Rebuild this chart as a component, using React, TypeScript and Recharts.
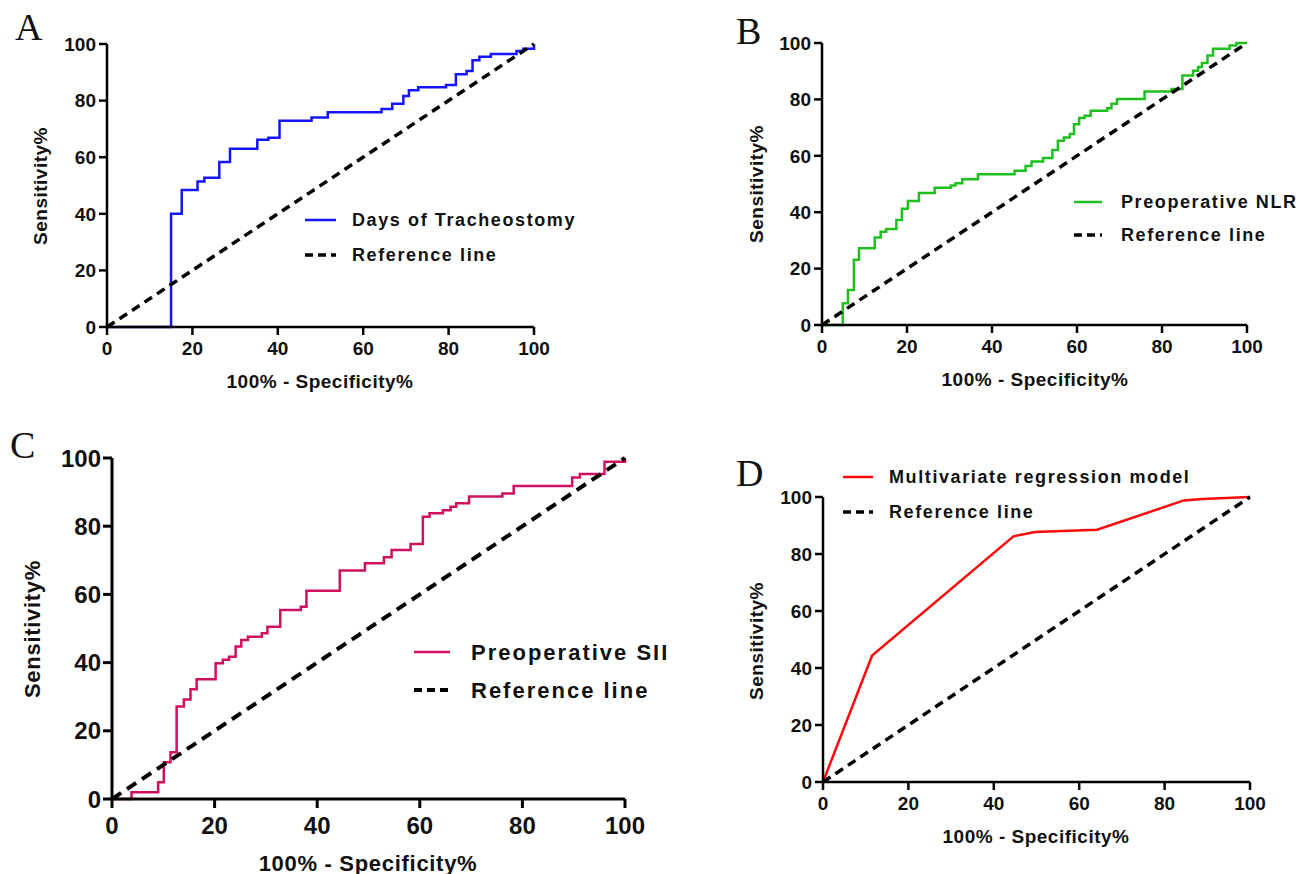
import React from 'react';
import { LineChart, Line, XAxis, YAxis } from 'recharts';

// shared axis ticks and the chance diagonal
const axisTicks = [0, 20, 40, 60, 80, 100];
const diagonalX = [0, 100];
const diagonalY = [0, 100];

// A - days of tracheostomy (100% - specificity, sensitivity)
const tracheoFpr = [0, 15, 17.5, 21.2, 22.8, 26.3, 28.8, 35.2, 37.8, 40.4, 47.9, 51.7, 64.3, 66.8, 69.4, 70.7, 72.9, 79.4, 81.7, 84.2, 85.6, 87.2, 89.9, 95.9, 97.5, 100];
const tracheoSens = [0, 40, 48.4, 51.4, 52.7, 58.3, 63, 66.2, 66.9, 72.9, 74, 75.9, 77, 78.9, 81.6, 83.7, 84.7, 85.5, 89.3, 90.5, 94.3, 95.5, 96.5, 97.5, 98.3, 100];

// B - preoperative NLR
const nlrFpr = [0, 4.9, 6.1, 7.5, 8.7, 12.4, 13.8, 15.1, 17.5, 18.8, 20.2, 22.8, 26.5, 30.3, 31.4, 33, 36.7, 45.3, 47.9, 49.3, 52, 54.2, 55.5, 56.9, 58.3, 59.3, 60.5, 61.8, 63.2, 67.1, 68.1, 69.4, 75.9, 82.2, 84.8, 87.3, 88.5, 89.4, 90.7, 92, 95.9, 97.5, 100];
const nlrSens = [0, 7.7, 12.4, 23.1, 27.2, 31, 33.1, 34, 37.2, 41.2, 44, 46.8, 48.7, 49.5, 50.3, 51.7, 53.5, 54.7, 56.4, 58, 59.2, 62.1, 65.3, 66.5, 67.7, 71.2, 73.4, 74.2, 76, 76.9, 78.5, 80.1, 82.8, 83.7, 88.5, 90.2, 91.5, 92.9, 95.6, 98, 99.1, 100, 100];

// C - preoperative SII
const siiFpr = [0, 3.8, 9, 10.1, 11.4, 12.6, 14, 15.3, 16.5, 20.2, 21.6, 22.8, 24.1, 25.2, 26.5, 29.2, 30.3, 32.8, 36.8, 37.9, 44.4, 49.3, 53, 54.5, 58.2, 60.6, 61.9, 64.5, 66, 67.1, 69.6, 76.1, 78.3, 89.7, 91.2, 96, 100];
const siiSens = [0, 2, 4.9, 10.8, 13.7, 27.1, 29.2, 32.2, 35.1, 39.8, 40.8, 41.7, 44.7, 46.6, 47.6, 48.6, 50.5, 55.4, 56.4, 61.1, 67, 69.1, 70.9, 73, 74.8, 82.8, 83.8, 84.7, 85.7, 86.7, 88.7, 89.6, 91.8, 94.3, 95.3, 98.9, 100];

// D - multivariate regression model
const modelFpr = [0, 11.5, 44.6, 49.7, 64.2, 84.5, 88.8, 100];
const modelSens = [0, 44.4, 86.2, 87.7, 88.5, 98.8, 99.3, 100];

const seriesNames = ['Days of Tracheostomy', 'Preoperative NLR', 'Preoperative SII', 'Multivariate regression model'];
const referenceName = 'Reference line';
const xTitle = '100% - Specificity%';
const yTitle = 'Sensitivity%';
const panelLetters = ['A', 'B', 'C', 'D'];

const SANS = '"Liberation Sans", Arial, Helvetica, sans-serif';
const SERIF = '"Liberation Serif", "Times New Roman", serif';

const pairs = (xs: number[], ys: number[]) => xs.map((x, i) => ({ x, y: ys[i] }));

type Look = {
  tick: number; tickWeight: number; axisW: number; tickLen: number; xGap: number; yGap: number;
  title: number; titleLs: number; legend: number; legendLs: number; legendWeight: number;
  lineW: number; refW: number; dash: string;
};

const small: Look = {
  tick: 19, tickWeight: 700, axisW: 2.5, tickLen: 8, xGap: 7, yGap: 3,
  title: 19, titleLs: 0.5, legend: 18, legendLs: 1.6, legendWeight: 700,
  lineW: 2.5, refW: 3.5, dash: '9 6',
};
const big: Look = {
  tick: 24, tickWeight: 700, axisW: 3, tickLen: 9, xGap: 9, yGap: 2,
  title: 22, titleLs: 0.7, legend: 22, legendLs: 2, legendWeight: 700,
  lineW: 2.5, refW: 4, dash: '11 7',
};

type PanelProps = {
  idx: number;
  fpr: number[];
  sens: number[];
  color: string;
  curve: 'stepAfter' | 'linear';
  plot: { x: number; y: number; w: number; h: number };
  look: Look;
};

function RocChart({ fpr, sens, color, curve, plot, look }: PanelProps) {
  const yw = 90, top = 16, right = 36, xh = 56;
  const axisLine = { stroke: '#000', strokeWidth: look.axisW };
  const tick = { fill: '#111', fontSize: look.tick, fontWeight: look.tickWeight, fontFamily: SANS };
  return (
    <div style={{ position: 'absolute', left: plot.x - yw, top: plot.y - top }}>
      <LineChart width={yw + plot.w + right} height={top + plot.h + xh} margin={{ top, right, bottom: 0, left: 0 }}>
        <XAxis type="number" dataKey="x" domain={[0, 100]} ticks={axisTicks} interval={0} height={xh}
          tickSize={look.tickLen} tickMargin={look.xGap} axisLine={axisLine} tickLine={axisLine} tick={tick} />
        <YAxis type="number" dataKey="y" domain={[0, 100]} ticks={axisTicks} interval={0} width={yw}
          tickSize={look.tickLen} tickMargin={look.yGap} axisLine={axisLine} tickLine={axisLine} tick={tick} />
        <Line data={pairs(fpr, sens)} dataKey="y" type={curve} stroke={color} strokeWidth={look.lineW}
          dot={false} activeDot={false} isAnimationActive={false} />
        <Line data={pairs(diagonalX, diagonalY)} dataKey="y" type="linear" stroke="#000" strokeWidth={look.refW}
          strokeDasharray={look.dash} dot={false} activeDot={false} isAnimationActive={false} />
      </LineChart>
    </div>
  );
}

// text and legend layout for each panel
const layout = [
  { letter: { x: 15, y: 40 }, yT: { x: 40, y: 186 }, xT: { x: 320, y: 381 }, sw: { x: 305, w: 31 }, textX: 352, rows: [220, 255] },
  { letter: { x: 736, y: 44 }, yT: { x: 756, y: 184 }, xT: { x: 1035, y: 379 }, sw: { x: 1074, w: 28 }, textX: 1121, rows: [202, 235] },
  { letter: { x: 10, y: 458 }, yT: { x: 32, y: 629 }, xT: { x: 368, y: 863 }, sw: { x: 414, w: 36 }, textX: 471, rows: [652, 690] },
  { letter: { x: 736, y: 486 }, yT: { x: 756, y: 641 }, xT: { x: 1036, y: 836 }, sw: { x: 843, w: 30 }, textX: 889, rows: [477, 512] },
];

export default function App() {
  const panels: PanelProps[] = [
    { idx: 0, fpr: tracheoFpr, sens: tracheoSens, color: '#1414ff', curve: 'stepAfter', plot: { x: 107, y: 44, w: 427, h: 283 }, look: small },
    { idx: 1, fpr: nlrFpr, sens: nlrSens, color: '#1ec01e', curve: 'stepAfter', plot: { x: 822, y: 43, w: 425, h: 282 }, look: small },
    { idx: 2, fpr: siiFpr, sens: siiSens, color: '#d0105e', curve: 'stepAfter', plot: { x: 112, y: 458, w: 513, h: 341 }, look: big },
    { idx: 3, fpr: modelFpr, sens: modelSens, color: '#ff0a0a', curve: 'linear', plot: { x: 823, y: 497, w: 427, h: 285 }, look: small },
  ];

  return (
    <div style={{ position: 'absolute', left: 0, top: 0, width: 1304, height: 874, background: '#fff', overflow: 'hidden' }}>
      {panels.map((p) => <RocChart key={p.idx} {...p} />)}
      <svg width={1304} height={874} style={{ position: 'absolute', left: 0, top: 0, pointerEvents: 'none' }}>
        {panels.map((p) => {
          const l = layout[p.idx];
          const lk = p.look;
          const titleStyle = { fontFamily: SANS, fontWeight: 700, fontSize: lk.title, letterSpacing: lk.titleLs, fill: '#111' };
          const legendStyle = { fontFamily: SANS, fontWeight: lk.legendWeight, fontSize: lk.legend, letterSpacing: lk.legendLs, fill: '#111' };
          return (
            <g key={p.idx}>
              <text x={l.letter.x} y={l.letter.y} style={{ fontFamily: SERIF, fontSize: 38, fill: '#111' }}>{panelLetters[p.idx]}</text>
              <text transform={`translate(${l.yT.x},${l.yT.y}) rotate(-90)`} textAnchor="middle" dominantBaseline="central" style={titleStyle}>{yTitle}</text>
              <text x={l.xT.x} y={l.xT.y} textAnchor="middle" dominantBaseline="central" style={titleStyle}>{xTitle}</text>
              <line x1={l.sw.x} x2={l.sw.x + l.sw.w} y1={l.rows[0]} y2={l.rows[0]} stroke={p.color} strokeWidth={lk.lineW} />
              <text x={l.textX} y={l.rows[0]} dominantBaseline="central" style={legendStyle}>{seriesNames[p.idx]}</text>
              <line x1={l.sw.x} x2={l.sw.x + l.sw.w} y1={l.rows[1]} y2={l.rows[1]} stroke="#000" strokeWidth={lk.refW} strokeDasharray="8 5" />
              <text x={l.textX} y={l.rows[1]} dominantBaseline="central" style={legendStyle}>{referenceName}</text>
            </g>
          );
        })}
      </svg>
    </div>
  );
}
